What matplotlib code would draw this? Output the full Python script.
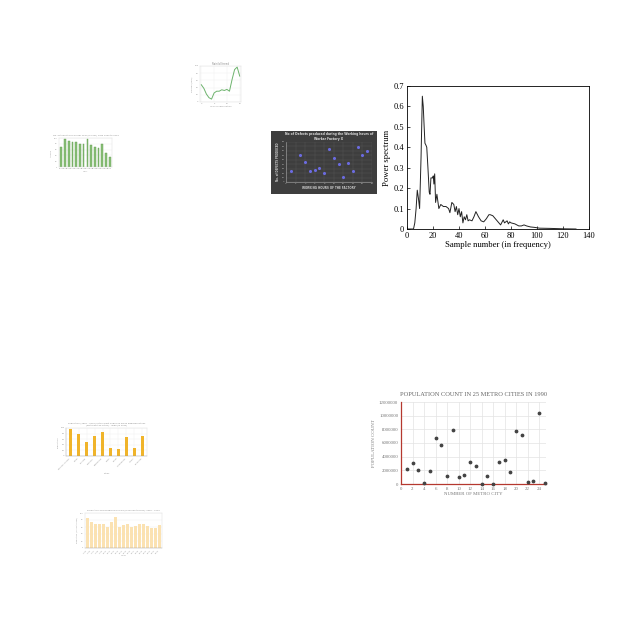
import matplotlib
matplotlib.use("Agg")
import matplotlib.pyplot as plt

# ---------------- data ----------------
# Power spectrum (large, top right)
ps_x = [0, 5, 6, 7, 7.9, 8.8, 9.7, 10.8, 11.8, 12.5, 13.2, 13.8, 14.6, 15.2, 16.1, 17.1, 17.7,
        18.4, 19.2, 19.7, 20.2, 20.7, 21.3, 22.0, 23.0, 24.5, 26, 28, 30, 32, 33, 34.5, 36,
        37, 38, 39, 40, 41, 42, 43, 44, 45, 46, 47, 48, 50, 51.5, 53, 55, 57, 59, 61, 63, 64,
        66, 68, 70, 72, 74, 75, 77, 78, 79, 80, 83, 86, 88, 90, 92, 95, 98, 102, 110, 120, 130]
ps_y = [0, 0, 0.03, 0.1, 0.19, 0.15, 0.10, 0.35, 0.65, 0.60, 0.50, 0.42, 0.41, 0.40, 0.30, 0.18, 0.17,
        0.25, 0.25, 0.25, 0.26, 0.22, 0.27, 0.13, 0.17, 0.10, 0.12, 0.11, 0.11, 0.10, 0.08, 0.13, 0.12,
        0.085, 0.11, 0.07, 0.10, 0.06, 0.085, 0.03, 0.06, 0.045, 0.07, 0.04, 0.045, 0.04, 0.06, 0.085, 0.06, 0.04, 0.035, 0.05, 0.07, 0.07,
        0.065, 0.05, 0.035, 0.02, 0.045, 0.03, 0.04, 0.025, 0.035, 0.03, 0.025, 0.015, 0.015, 0.02, 0.015, 0.01, 0.008, 0.004, 0.003, 0.001, 0]
ps_xticks = [0, 20, 40, 60, 80, 100, 120, 140]
ps_yticks = [0, 0.1, 0.2, 0.3, 0.4, 0.5, 0.6, 0.7]

# Population scatter (large, bottom right)
pop_city = list(range(1, 26))
pop_count = [2180000, 3060000, 2000000, 100000, 1940000, 6750000, 5680000, 1170000, 7960000, 1020000,
             1310000, 3200000, 2620000, 0, 1210000, 0, 3250000, 3450000, 1700000, 7720000,
             7230000, 240000, 440000, 10400000, 200000]
pop_xticks = list(range(0, 26, 2))
pop_yticks = [0, 2000000, 4000000, 6000000, 8000000, 10000000, 12000000]

# Thumbnail: green line chart
line_y = [48, 38, 22, 12, 8, 25, 30, 30, 34, 32, 35, 30, 62, 90, 97, 72]

# Thumbnail: green bar chart
gbar_vals = [70, 95, 88, 85, 85, 80, 80, 97, 75, 70, 65, 80, 48, 35]

# Thumbnail: dark scatter (defects vs working hours)
dk_hours = [1, 3, 4, 5, 6, 7, 8, 9, 10, 11, 12, 13, 14, 15, 16, 17]
dk_defects = [25, 60, 45, 25, 27, 32, 20, 75, 55, 40, 12, 42, 24, 78, 60, 70]

# Thumbnail: yellow bar chart
ybar_cities = ["Mumbai-Thane", "Delhi", "Kolkata", "Chennai", "Bangalore", "Pune",
               "Surat", "Hyderabad", "Jaipur", "Lucknow"]
ybar_vals = [95, 78, 50, 70, 85, 30, 25, 68, 30, 70]

# Thumbnail: light yellow bar chart
lbar_vals = [85, 75, 70, 70, 68, 60, 75, 90, 60, 65, 68, 60, 63, 68, 70, 62, 58, 58, 65]

W = H = 640.0


def px(l, t, r, b):
    return [l / W, 1 - b / H, (r - l) / W, (b - t) / H]


fig = plt.figure(figsize=(6.4, 6.4), dpi=100)
fig.patch.set_facecolor("white")
SERIF = ["Liberation Serif", "DejaVu Serif"]

# ---------------- power spectrum ----------------
ax = fig.add_axes(px(407, 86, 589, 229))
ax.plot(ps_x, ps_y, color="#222222", lw=0.7)
ax.set_xlim(0, 140)
ax.set_ylim(0, 0.7)
ax.set_xticks(ps_xticks)
ax.set_yticks(ps_yticks)
ax.set_yticklabels(["0", "0.1", "0.2", "0.3", "0.4", "0.5", "0.6", "0.7"])
ax.tick_params(direction="in", length=2, width=0.5, labelsize=6, pad=2)
for lab in ax.get_xticklabels() + ax.get_yticklabels():
    lab.set_family(SERIF)
for s in ax.spines.values():
    s.set_linewidth(0.6)
ax.set_xlabel("Sample number (in frequency)", fontsize=6.2, family=SERIF, labelpad=1)
ax.set_ylabel("Power spectrum", fontsize=6.2, family=SERIF, labelpad=2)

# ---------------- population scatter ----------------
ax = fig.add_axes(px(401, 402, 546, 484))
ax.scatter(pop_city, pop_count, s=3, color="#444444", zorder=3, clip_on=False)
ax.set_xlim(0, 25.2)
ax.set_ylim(0, 12000000)
ax.set_xticks(pop_xticks)
ax.set_yticks(pop_yticks)
ax.set_yticklabels([str(v) for v in pop_yticks])
ax.grid(True, color="#e3e3e3", lw=0.5)
ax.set_axisbelow(True)
for k in ["top", "right"]:
    ax.spines[k].set_visible(False)
for k in ["left", "bottom"]:
    ax.spines[k].set_color("#b5382f")
    ax.spines[k].set_linewidth(0.9)
ax.tick_params(length=0, labelsize=3.5, labelcolor="#777777", pad=2)
for lab in ax.get_xticklabels() + ax.get_yticklabels():
    lab.set_family(SERIF)
ax.set_title("POPULATION COUNT IN 25 METRO CITIES IN 1990", fontsize=4.6, color="#666666",
             family=SERIF, pad=4)
ax.set_xlabel("NUMBER OF METRO CITY", fontsize=3.5, color="#777777", family=SERIF, labelpad=1)
ax.set_ylabel("POPULATION COUNT", fontsize=3.5, color="#777777", family=SERIF, labelpad=2)

# ---------------- thumbnail: line ----------------
ax = fig.add_axes(px(200, 66, 241, 102))
ax.plot(range(len(line_y)), line_y, color="#6db36d", lw=0.7)
ax.set_xlim(-0.5, len(line_y) - 0.5)
ax.set_ylim(0, 100)
ax.grid(True, color="#eeeeee", lw=0.3)
for s in ax.spines.values():
    s.set_color("#dddddd")
    s.set_linewidth(0.3)
ax.tick_params(length=0, labelsize=1.5, labelcolor="#999999", pad=1)
ax.set_title("Rainfall trend", fontsize=1.8, color="#888888", pad=1)
ax.set_xlabel("Year of observation", fontsize=1.6, color="#999999", labelpad=1)
ax.set_ylabel("Rainfall (mm)", fontsize=1.6, color="#999999", labelpad=1)

# ---------------- thumbnail: green bars ----------------
ax = fig.add_axes(px(59, 138, 112, 167))
ax.bar(range(len(gbar_vals)), gbar_vals, width=0.45, color="#8cc27a", edgecolor="#5e9a4c", lw=0.3)
ax.set_xlim(-0.6, len(gbar_vals) - 0.4)
ax.set_ylim(0, 100)
ax.grid(True, axis="y", color="#eeeeee", lw=0.3)
ax.set_axisbelow(True)
for s in ax.spines.values():
    s.set_color("#dddddd")
    s.set_linewidth(0.3)
ax.tick_params(length=0, labelsize=1.4, labelcolor="#999999", pad=1)
ax.set_xticks(range(len(gbar_vals)))
ax.set_xticklabels([str(2000 + i) for i in range(len(gbar_vals))])
ax.set_title("No. of tourist arrivals per year (in 000s) from 2000 to 2013", fontsize=1.6,
             color="#888888", pad=1.5)
ax.set_xlabel("Year", fontsize=1.5, color="#999999", labelpad=1)
ax.set_ylabel("Arrivals", fontsize=1.5, color="#999999", labelpad=1)

# ---------------- thumbnail: dark scatter ----------------
bg = fig.add_axes(px(271, 131, 377, 194))
bg.set_facecolor("#3e3e3e")
bg.set_xticks([])
bg.set_yticks([])
for s in bg.spines.values():
    s.set_visible(False)

ax = fig.add_axes(px(286, 142, 372, 182))
ax.patch.set_alpha(0)
ax.scatter(dk_hours, dk_defects, s=1.5, color="#6b6be0", zorder=3)
ax.set_xlim(0, 18)
ax.set_ylim(0, 90)
ax.set_xticks(range(0, 19, 2))
ax.grid(True, color="#5a5a5a", lw=0.3)
for s in ax.spines.values():
    s.set_visible(False)
for k in ["left", "bottom"]:
    ax.spines[k].set_visible(True)
    ax.spines[k].set_color("#aaaaaa")
    ax.spines[k].set_linewidth(0.4)
ax.tick_params(length=0, labelsize=1.6, labelcolor="#bbbbbb", pad=1)
ax.set_title("No of Defects produced during the Working hours of\nWorker Factory X",
             fontsize=2.2, color="#dddddd", pad=1.5, fontweight="bold")
ax.set_xlabel("WORKING HOURS OF THE FACTORY", fontsize=2.0, color="#cccccc", labelpad=1.5,
              fontweight="bold")
ax.set_ylabel("No. of DEFECTS PRODUCED", fontsize=1.8, color="#cccccc", labelpad=1.5,
              fontweight="bold")

# ---------------- thumbnail: yellow bars ----------------
ax = fig.add_axes(px(66, 428, 147, 456))
ax.bar(range(len(ybar_vals)), ybar_vals, width=0.32, color="#f0b42a")
ax.set_xlim(-0.6, len(ybar_vals) - 0.4)
ax.set_ylim(0, 100)
ax.grid(True, color="#eeeeee", lw=0.3)
ax.set_axisbelow(True)
for s in ax.spines.values():
    s.set_color("#dddddd")
    s.set_linewidth(0.3)
ax.spines["left"].set_color("#999999")
ax.spines["bottom"].set_color("#999999")
ax.tick_params(length=0, labelsize=1.6, labelcolor="#999999", pad=1)
ax.set_xticks(range(len(ybar_vals)))
ax.set_xticklabels(ybar_cities, rotation=45, ha="right")
ax.set_title("Population (1991 - 2001) of ten most populous urban agglomerations\n"
             "(metropolitan cities) - India (in 000s)", fontsize=1.6, color="#888888", pad=1.5)
ax.set_xlabel("Cities", fontsize=1.6, color="#999999", labelpad=2)
ax.set_ylabel("Population", fontsize=1.6, color="#999999", labelpad=1)

# ---------------- thumbnail: light yellow bars ----------------
ax = fig.add_axes(px(85, 513, 162, 548))
ax.bar(range(len(lbar_vals)), lbar_vals, width=0.85, color="#fbe2b2")
ax.set_xlim(-0.6, len(lbar_vals) - 0.4)
ax.set_ylim(0, 100)
ax.grid(True, axis="y", color="#eeeeee", lw=0.3)
ax.set_axisbelow(True)
for s in ax.spines.values():
    s.set_color("#dddddd")
    s.set_linewidth(0.3)
ax.spines["bottom"].set_color("#999999")
ax.tick_params(length=0, labelsize=1.4, labelcolor="#999999", pad=1)
ax.set_xticks(range(len(lbar_vals)))
ax.set_xticklabels([str(1995 + i) for i in range(len(lbar_vals))], rotation=45, ha="right")
ax.set_title("Production of food grains in India (in million tonnes), 1995 - 2013", fontsize=1.6,
             color="#888888", pad=1.5)
ax.set_xlabel("Year", fontsize=1.6, color="#999999", labelpad=1)
ax.set_ylabel("Production (million tonnes)", fontsize=1.4, color="#999999", labelpad=1)

fig.savefig("out.png", dpi=100, facecolor="white")
